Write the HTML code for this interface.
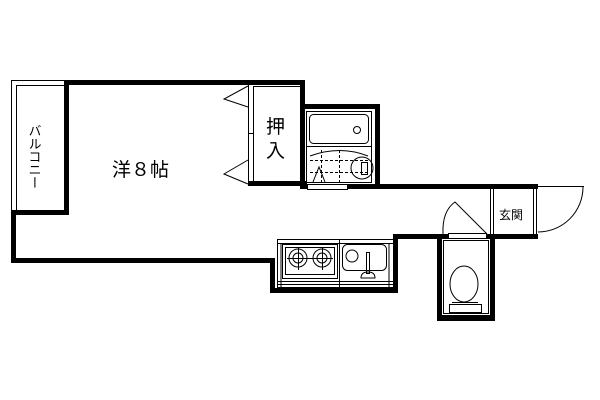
<!DOCTYPE html>
<html><head><meta charset="utf-8"><style>html,body{margin:0;padding:0;background:#fff}svg{display:block}</style></head>
<body>
<svg width="600" height="400" viewBox="0 0 600 400" xmlns="http://www.w3.org/2000/svg" font-family="'Liberation Sans','Noto Sans CJK JP',sans-serif">
<rect width="600" height="400" fill="#fff"/>
<g fill="none" stroke="#000" stroke-width="1">
 <!-- balcony -->
 <rect x="11.5" y="80.5" width="55" height="133"/>
 <rect x="16.5" y="85.5" width="48" height="125"/>
 <!-- closet -->
 <rect x="253.5" y="86.5" width="47" height="95"/>
 <line x1="248.5" y1="83" x2="248.5" y2="184"/>
 <line x1="248" y1="133.5" x2="253" y2="133.5"/>
 <!-- closet door triangles -->
 <polyline points="248,86 224,99 248,107"/>
 <polyline points="248,160 224,174 248,184"/>
 <!-- bath -->
 <rect x="306.5" y="111.5" width="65" height="71"/>
 <rect x="309.5" y="114.5" width="59" height="29" rx="4"/>
 <circle cx="357" cy="130" r="3.5"/>
 <line x1="306" y1="146.5" x2="371" y2="146.5"/>
 <path d="M310 156 Q340 145 368 156"/>
 <g stroke-dasharray="3,2"><line x1="310" y1="160.5" x2="368" y2="160.5"/><line x1="310" y1="172.5" x2="368" y2="172.5"/><line x1="321.5" y1="150" x2="321.5" y2="182"/><line x1="339.5" y1="150" x2="339.5" y2="182"/></g>
 <polyline points="313,182 319,167 325,182"/>
 <circle cx="362" cy="168" r="11"/>
 <rect x="361.5" y="162.5" width="6" height="12"/>
 <rect x="307.5" y="184.5" width="40" height="5"/>
 <!-- corridor / entrance -->
 <line x1="490.5" y1="189" x2="490.5" y2="234"/>
 <line x1="493.5" y1="189" x2="493.5" y2="234"/>
 <line x1="533.5" y1="189" x2="533.5" y2="234"/>
 <line x1="536.5" y1="189" x2="536.5" y2="234"/>
 <line x1="538" y1="186.5" x2="584" y2="186.5"/>
 <path d="M583 187 A45 45 0 0 1 538 232"/>
 <!-- toilet door -->
 <path d="M443 234 Q442 211 455 202 L487 234"/>
 <rect x="448.5" y="233.5" width="38" height="5"/>
 <!-- kitchen -->
 <rect x="277.5" y="239.5" width="116" height="48"/>
 <line x1="277" y1="243.5" x2="393" y2="243.5"/>
 <line x1="281" y1="243" x2="281" y2="288"/>
 <line x1="389" y1="243" x2="389" y2="288"/>
 <line x1="277" y1="281.5" x2="393" y2="281.5"/>
 <line x1="277" y1="284.5" x2="393" y2="284.5"/>
 <line x1="339.5" y1="239" x2="339.5" y2="288"/>
 <rect x="282.5" y="244.5" width="55" height="34"/>
 <rect x="285.5" y="247.5" width="49" height="27"/>
 <circle cx="298" cy="258" r="9"/><circle cx="298" cy="258" r="5"/>
 <circle cx="322" cy="258" r="9"/><circle cx="322" cy="258" r="5"/>
 <line x1="287" y1="258.5" x2="333" y2="258.5"/>
 <line x1="298.5" y1="247" x2="298.5" y2="270"/><line x1="322.5" y1="247" x2="322.5" y2="270"/>
 <rect x="342.5" y="244.5" width="44" height="26" rx="5"/>
 <circle cx="352" cy="256" r="6"/>
 <rect x="366.5" y="252.5" width="3" height="21"/>
 <path d="M361 278 Q361 272 368 272 Q375 272 375 278 Z"/>
 <!-- toilet -->
 <rect x="443.5" y="240.5" width="45" height="73"/>
 <ellipse cx="464" cy="284" rx="14" ry="18"/>
 <rect x="449.5" y="304.5" width="32" height="8"/>
 <line x1="452" y1="302.5" x2="478" y2="302.5"/>
</g>
<!-- thick walls -->
<g fill="#000">
 <rect x="64" y="80" width="241" height="5"/>
 <rect x="64" y="80" width="5" height="135"/>
 <rect x="11" y="210" width="58" height="5"/>
 <rect x="11" y="210" width="5" height="53"/>
 <rect x="11" y="258" width="264" height="5"/>
 <rect x="270" y="258" width="5" height="35"/>
 <rect x="270" y="288" width="128" height="5"/>
 <rect x="393" y="234" width="5" height="59"/>
 <rect x="393" y="234" width="55" height="5"/>
 <rect x="486" y="234" width="52" height="5"/>
 <rect x="248" y="181" width="59" height="5"/>
 <rect x="300" y="84" width="5" height="105"/>
 <rect x="300" y="104" width="80" height="5"/>
 <rect x="375" y="104" width="5" height="85"/>
 <rect x="348" y="184" width="190" height="5"/>
 <rect x="300" y="184" width="8" height="5"/>
 <rect x="437" y="234" width="5" height="87"/>
 <rect x="490" y="234" width="5" height="87"/>
 <rect x="437" y="315" width="58" height="6"/>
</g>
<g font-size="19" fill="#000"><text x="112" y="176">洋８帖</text></g>
<text x="266" y="133" font-size="19">押</text>
<text x="266" y="157" font-size="19">入</text>
<g font-size="13" fill="#000">
 <text x="34" y="124" writing-mode="tb">バルコニー</text>
</g>
<text x="499" y="219" font-size="12">玄関</text>
</svg>
</body></html>
